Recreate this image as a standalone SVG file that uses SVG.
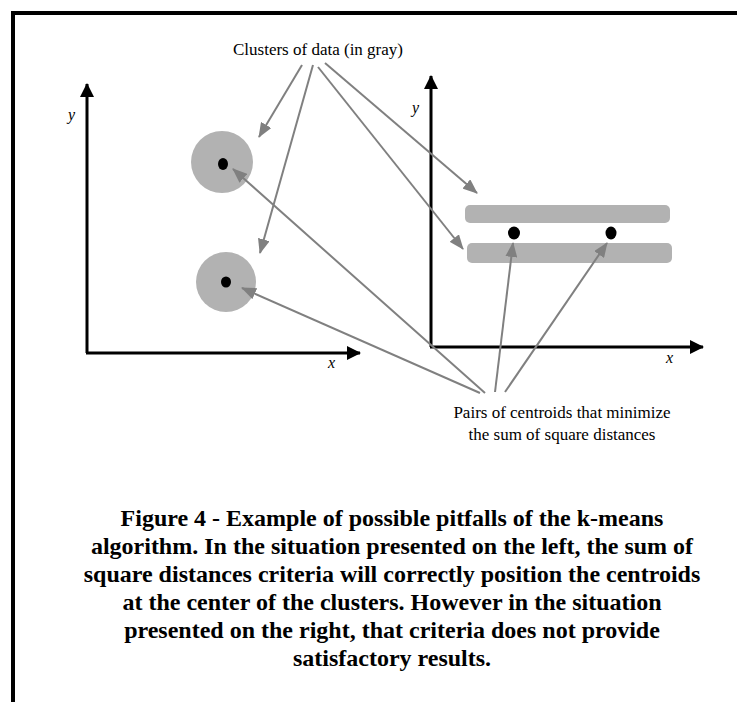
<svg xmlns="http://www.w3.org/2000/svg" width="737" height="702" viewBox="0 0 737 702">
<style>
.lbl{font-family:"Liberation Serif","Times New Roman",serif;font-size:17px;fill:#000}
.ax{font-family:"Liberation Serif","Times New Roman",serif;font-size:16px;font-style:italic;fill:#000}
.cap{font-family:"Liberation Serif","Times New Roman",serif;font-size:24px;font-weight:bold;fill:#000;text-anchor:middle}
.axis{stroke:#000;stroke-width:3;fill:none}
.con{stroke:#808080;stroke-width:2;fill:none}
.clus{fill:#b2b2b2}
</style>
<defs>
<marker id="ba" markerUnits="userSpaceOnUse" markerWidth="14" markerHeight="14" refX="13" refY="7" orient="auto" viewBox="0 0 14 14"><path d="M0,0 L14,7 L0,14 Z" fill="#000"/></marker>
<marker id="ga" markerUnits="userSpaceOnUse" markerWidth="15" markerHeight="12" refX="14" refY="6" orient="auto" viewBox="0 0 15 12"><path d="M0,0 L15,6 L0,12 Z" fill="#808080"/></marker>
</defs>
<rect width="737" height="702" fill="#fff"/>
<path d="M13,702 V13 H737" fill="none" stroke="#000" stroke-width="4"/>

<g id="left-axes">
<path class="axis" d="M87,353 V84" marker-end="url(#ba)"/>
<path class="axis" d="M86,353 H360" marker-end="url(#ba)"/>
<text class="ax" x="68" y="120">y</text>
<text class="ax" x="328" y="368">x</text>
</g>
<g id="right-axes">
<path class="axis" d="M431,347 V76" marker-end="url(#ba)"/>
<path class="axis" d="M430,347 H703" marker-end="url(#ba)"/>
<text class="ax" x="412" y="113">y</text>
<text class="ax" x="666" y="363">x</text>
</g>

<g id="cluster-top-left">
<circle class="clus" cx="222" cy="162" r="31"/>
<ellipse cx="223" cy="164" rx="5" ry="6"/>
</g>
<g id="cluster-bottom-left">
<circle class="clus" cx="226" cy="282" r="30"/>
<ellipse cx="226" cy="282" rx="5" ry="5.5"/>
</g>
<g id="cluster-top-right">
<rect class="clus" x="465" y="205" width="205" height="18" rx="5"/>
</g>
<g id="cluster-bottom-right">
<rect class="clus" x="467" y="243" width="205" height="20" rx="5"/>
</g>
<g id="centroid-1"><ellipse cx="514" cy="233" rx="6" ry="6.5"/></g>
<g id="centroid-2"><ellipse cx="611" cy="233" rx="5.5" ry="6.5"/></g>

<g id="label-clusters"><text class="lbl" x="318" y="55" text-anchor="middle">Clusters of data (in gray)</text></g>
<g id="label-pairs">
<text class="lbl" x="562" y="418" text-anchor="middle">Pairs of centroids that minimize</text>
<text class="lbl" x="562" y="440" text-anchor="middle">the sum of square distances</text>
</g>

<g id="connectors">
<path class="con" d="M302,65 L259,137" marker-end="url(#ga)"/>
<path class="con" d="M313,65 L260,253" marker-end="url(#ga)"/>
<path class="con" d="M318,67 L463,249" marker-end="url(#ga)"/>
<path class="con" d="M325,63 L477,193" marker-end="url(#ga)"/>
<path class="con" d="M485,393 L233,169" marker-end="url(#ga)"/>
<path class="con" d="M480,393 L242,288" marker-end="url(#ga)"/>
<path class="con" d="M495,392 L513,243" marker-end="url(#ga)"/>
<path class="con" d="M505,392 L607,243" marker-end="url(#ga)"/>
</g>

<g id="caption">
<text class="cap" x="392" y="526">Figure 4 - Example of possible pitfalls of the k-means</text>
<text class="cap" x="392" y="554">algorithm. In the situation presented on the left, the sum of</text>
<text class="cap" x="392" y="582">square distances criteria will correctly position the centroids</text>
<text class="cap" x="392" y="610">at the center of the clusters. However in the situation</text>
<text class="cap" x="392" y="638">presented on the right, that criteria does not provide</text>
<text class="cap" x="392" y="666">satisfactory results.</text>
</g>
</svg>
